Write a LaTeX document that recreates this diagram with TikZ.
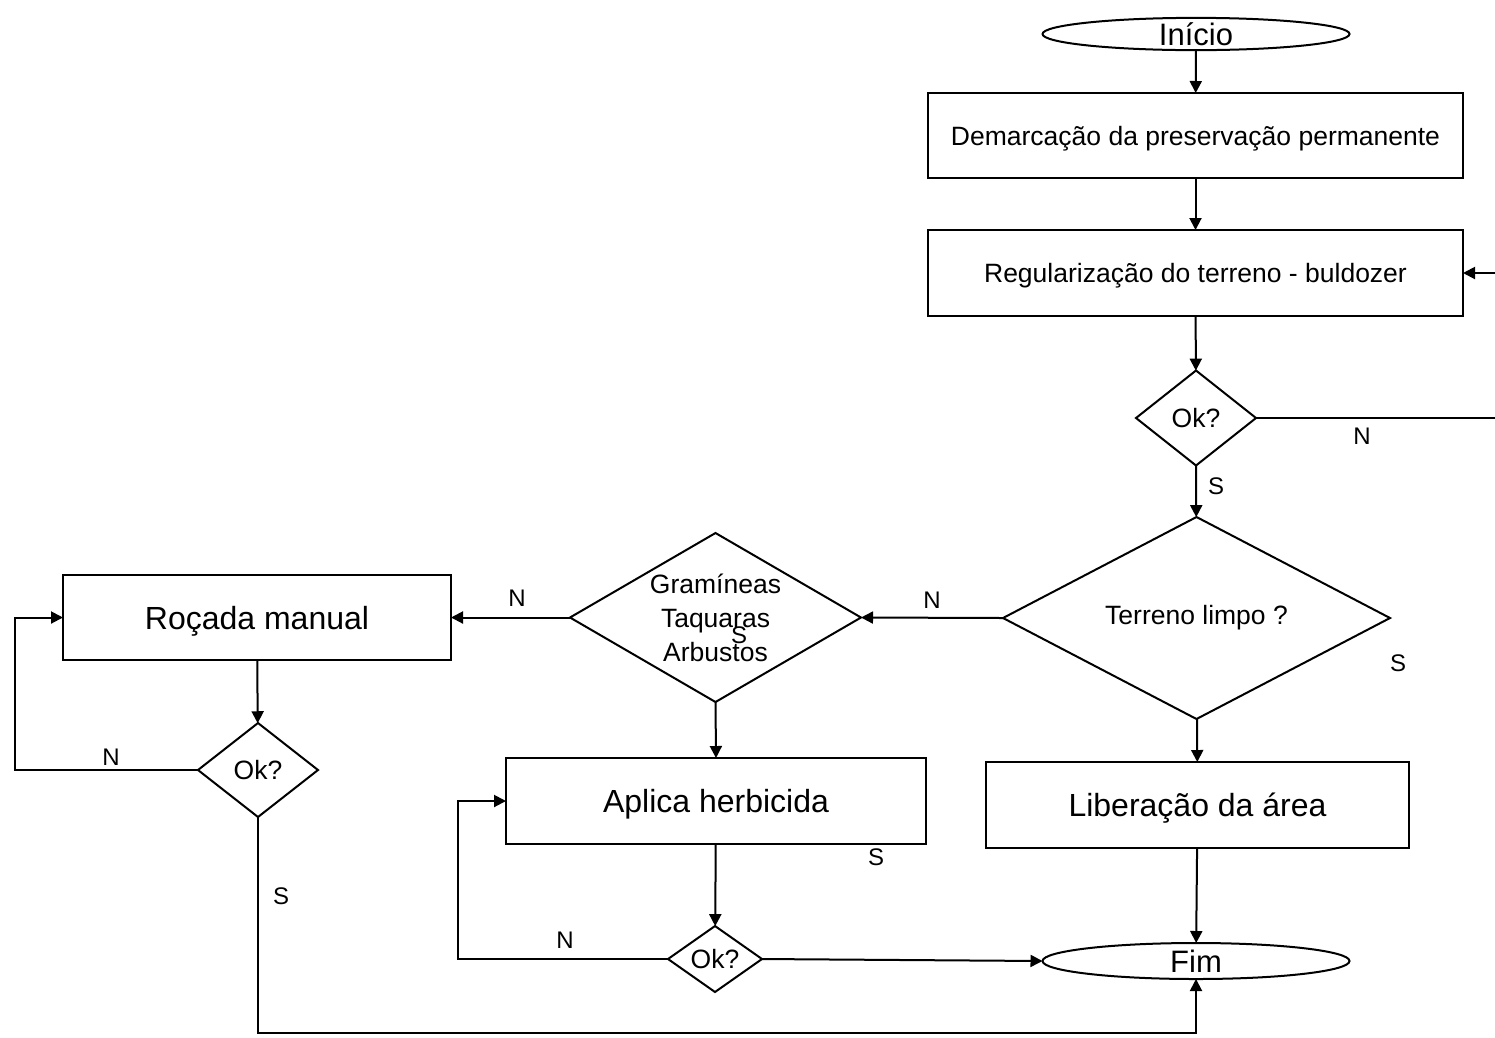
\documentclass[tikz,border=0pt]{standalone}
\usepackage{fontspec}
\setmainfont{Liberation Sans}
\usetikzlibrary{shapes.geometric,arrows.meta}
\begin{document}
\begin{tikzpicture}[x=1pt,y=-1pt,
  every node/.style={inner sep=0pt,outer sep=0pt},
  flow/.style={line width=2pt,-{Triangle[length=12pt,width=12pt]}},
  procbox/.style={draw,line width=2pt,rectangle,text depth=0pt,font=\fontsize{32}{36}\selectfont},
  smallbox/.style={draw,line width=2pt,rectangle,text depth=0pt,font=\fontsize{26.5}{30}\selectfont},
  term/.style={draw,line width=2pt,ellipse,minimum width=307pt,text depth=0pt,font=\fontsize{31}{36}\selectfont},
  % the diamond keeps its given size; its question is set as a centred label
  decision/.style={draw,line width=2pt,diamond,
    label={[font=\fontsize{26.5}{34}\selectfont,align=center]center:#1}},
  lbl/.style={font=\fontsize{24}{28}\selectfont}
]
\useasboundingbox (0,0) rectangle (1495,1037);

% terminals
\node[term,minimum height=31pt] (ini) at (1196,34) {Início};
\node[term,minimum height=36pt] (fim) at (1196,961) {Fim};

% process boxes
\node[smallbox,minimum width=535pt,minimum height=85pt] (dem) at (1195.5,135.5) {Demarcação da preservação permanente};
\node[smallbox,minimum width=535pt,minimum height=86pt] (reg) at (1195.5,273) {Regularização do terreno - buldozer};
\node[procbox,minimum width=423pt,minimum height=86pt] (lib) at (1197.5,805) {Liberação da área};
\node[procbox,minimum width=388pt,minimum height=85pt] (roc) at (257,617.5) {Roçada manual};
\node[procbox,minimum width=420pt,minimum height=86pt] (apl) at (716,801) {Aplica herbicida};

% decisions
\node[decision={Ok?},minimum width=120pt,minimum height=95pt] (ok1) at (1196,418) {};
\node[decision={Terreno limpo ?},minimum width=387pt,minimum height=202pt] (tl) at (1196.5,618) {};
\node[decision={Gramíneas\\Taquaras\\Arbustos},minimum width=291pt,minimum height=169pt] (gta) at (715.5,617.5) {};
\node[decision={Ok?},minimum width=120pt,minimum height=94pt] (ok2) at (258,770) {};
\node[decision={Ok?},minimum width=94pt,minimum height=66pt] (ok3) at (715,959) {};

% return points of the loops
\coordinate (rt) at (1502,418);
\coordinate (lf) at (15,770);
\coordinate (md) at (458,959);
\coordinate (bt) at (258,1033);

% main line
\draw[flow] (ini) -- (dem);
\draw[flow] (dem) -- (reg);
\draw[flow] (reg) -- (ok1);
\draw[flow] (ok1) -- (tl);
\draw[flow] (tl) -- (lib);
\draw[flow] (lib) -- (fim);
\draw[flow] (ok1.east) -- (rt) |- (reg.east);

% left branches
\draw[flow] (tl.west) -- (gta.east);
\draw[flow] (gta.west) -- (roc.east);
\draw[flow] (gta.south) -- (apl.north);
\draw[flow] (roc) -- (ok2);
\draw[flow] (ok2.west) -- (lf) |- (roc.west);
\draw[flow] (apl) -- (ok3);
\draw[flow] (ok3.west) -- (md) |- (apl.west);
\draw[flow] (ok3.east) -- (fim.west);
\draw[flow] (ok2.south) -- (bt) -| (fim.south);

% branch labels
\node[lbl] (n1) at (1362,436) {N};
\node[lbl] (s1) at (1216,486) {S};
\node[lbl] (s2) at (1398,663) {S};
\node[lbl] (n2) at (932,600) {N};
\node[lbl] (s3) at (739,635) {S};
\node[lbl] (n3) at (517,598) {N};
\node[lbl] (n4) at (111,757) {N};
\node[lbl] (s4) at (281,896) {S};
\node[lbl] (s5) at (876,857) {S};
\node[lbl] (n5) at (565,940) {N};
\end{tikzpicture}
\end{document}
